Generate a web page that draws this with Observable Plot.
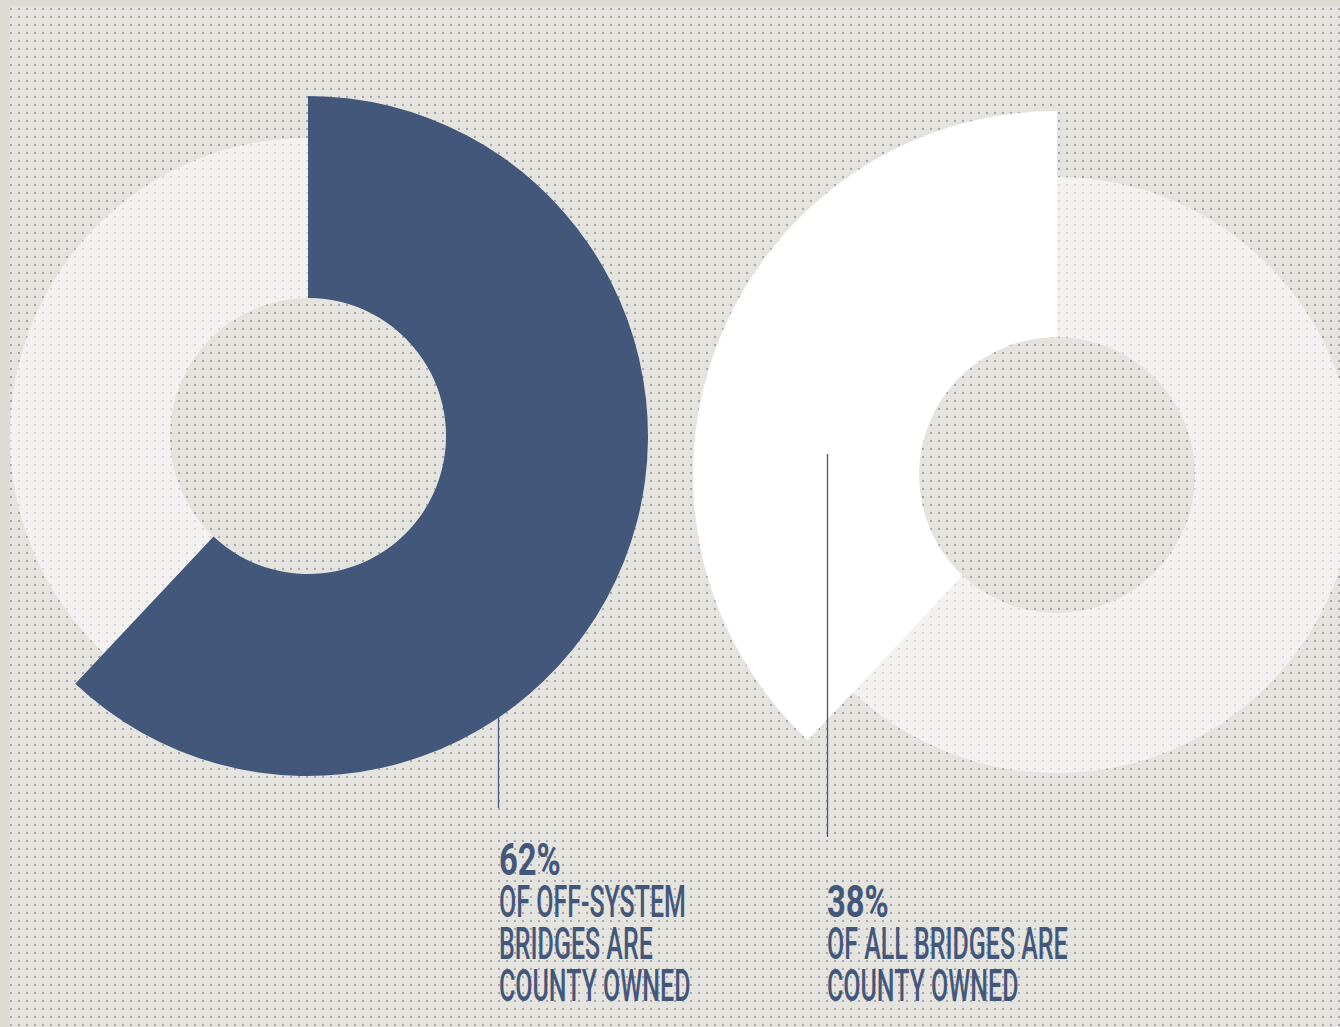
<!DOCTYPE html>
<html><head><meta charset="utf-8">
<script src="https://cdn.jsdelivr.net/npm/d3@7"></script>
<script src="https://cdn.jsdelivr.net/npm/@observablehq/plot@0.6"></script>
<style>
html,body{margin:0;padding:0;background:#dddcd4;overflow:hidden;}
#chart svg{display:block;}
</style></head><body><div id="chart"></div>
<script>
// ---- data ----
const charts = ["Off-system bridges", "All bridges"];
const shares = [62, 38];
const percentLabels = ["62%", "38%"];
const captions = [
  ["OF OFF-SYSTEM", "BRIDGES ARE", "COUNTY OWNED"],
  ["OF ALL BRIDGES ARE", "COUNTY OWNED"]
];

// ---- layout ----
const W = 1340, H = 1027;
const centers = [[308, 436], [1057, 475]];
const ringInner = 138, ringOuter = 298;
const highlightOuter = [340, 364];
const highlightFill = ["#43577a", "#ffffff"];
const clockwise = [true, false];
const textX = [498.5, 826.5];
const leaders = [{chart: 0, x: 498, y1: 717, y2: 808}, {chart: 1, x: 827, y1: 454, y2: 837}];
const lastBaseline = 1000, lineGap = 42, fontSize = 44;
const ink = "#43577a";

const percentRows = charts.map((c, i) => ({chart: i, text: percentLabels[i], lines: captions[i].length}));
const captionRows = charts.map((c, i) => ({chart: i, text: captions[i].join("\n")}));

const backgroundMark = (index, {x, y}) => {
  const g = d3.create("svg:g");
  const defs = g.append("defs");
  const p = defs.append("pattern").attr("id", "dotgrid").attr("patternUnits", "userSpaceOnUse")
    .attr("width", 8).attr("height", 8);
  p.append("rect").attr("x", 2).attr("y", 0).attr("width", 2).attr("height", 2).attr("fill", "#a3a7b4");
  g.append("rect").attr("x", x(10)).attr("y", y(6)).attr("width", x(W) - x(10)).attr("height", y(H) - y(6)).attr("fill", "#e5e3dd");
  g.append("rect").attr("x", x(10)).attr("y", y(6)).attr("width", x(W) - x(10)).attr("height", y(H) - y(6)).attr("fill", "url(#dotgrid)");
  return g.node();
};

const ringsMark = (index, {x, y}) => {
  const g = d3.create("svg:g");
  const arc = d3.arc().innerRadius(x(ringInner) - x(0)).outerRadius(x(ringOuter) - x(0)).startAngle(0).endAngle(2 * Math.PI);
  centers.forEach(([cx, cy]) => {
    g.append("path").attr("transform", `translate(${x(cx)},${y(cy)})`).attr("d", arc())
      .attr("fill", "#ffffff").attr("fill-opacity", 0.55);
  });
  return g.node();
};

const highlightMark = (index, {x, y}) => {
  const g = d3.create("svg:g");
  charts.forEach((c, i) => {
    const a = 2 * Math.PI * shares[i] / 100;
    const arc = d3.arc().innerRadius(x(ringInner) - x(0)).outerRadius(x(highlightOuter[i]) - x(0))
      .startAngle(clockwise[i] ? 0 : 2 * Math.PI - a).endAngle(clockwise[i] ? a : 2 * Math.PI);
    g.append("path").attr("transform", `translate(${x(centers[i][0])},${y(centers[i][1])})`).attr("d", arc())
      .attr("fill", highlightFill[i]);
  });
  return g.node();
};

const chart = Plot.plot({
  width: W, height: H,
  margin: 0,
  x: {domain: [0, W], range: [0, W], axis: null},
  y: {domain: [0, H], range: [0, H], axis: null},
  style: {background: "#dddcd4", overflow: "hidden"},
  marks: [
    backgroundMark,
    ringsMark,
    highlightMark,
    Plot.ruleX(leaders, {x: "x", y1: "y1", y2: "y2", stroke: ink, strokeWidth: 1.3}),
    Plot.text(percentRows, {
      x: d => textX[d.chart], y: d => lastBaseline - d.lines * lineGap, text: "text",
      textAnchor: "start", lineAnchor: "bottom", fill: ink, fontSize, fontWeight: 700,
      fontFamily: "Roboto", className: "pct"
    }),
    Plot.text(captionRows, {
      x: d => textX[d.chart], y: lastBaseline, text: "text", lineHeight: lineGap / fontSize,
      textAnchor: "start", lineAnchor: "bottom", fill: ink, fontSize, fontWeight: 500,
      fontFamily: "Roboto", className: "cap"
    })
  ]
});
chart.querySelectorAll(".pct text").forEach(t => t.setAttribute("transform", t.getAttribute("transform") + " scale(0.745,1)"));
chart.querySelectorAll(".cap text").forEach(t => t.setAttribute("transform", t.getAttribute("transform") + " scale(0.568,1)"));
document.getElementById("chart").appendChild(chart);
</script></body></html>
